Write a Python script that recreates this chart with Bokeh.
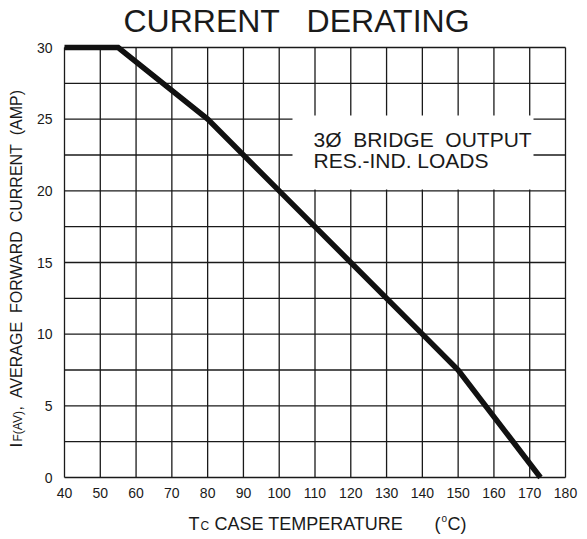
from bokeh.plotting import figure
from bokeh.models import Range1d, FixedTicker, Label, ColumnDataSource
from bokeh.embed import file_html
from bokeh.resources import INLINE

# ---- data ----
case_temp = [40, 55, 80, 100, 120, 140, 150, 173]      # Tc (deg C)
avg_current = [30, 30, 25, 20, 15, 10, 7.5, 0]         # IF(AV) (A)

x_ticks = [40, 50, 60, 70, 80, 90, 100, 110, 120, 130, 140, 150, 160, 170, 180]
y_ticks = [0, 5, 10, 15, 20, 25, 30]
y_grid = [0, 2.5, 5, 7.5, 10, 12.5, 15, 17.5, 20, 22.5, 25, 27.5, 30]

NB = "\u00a0"
title_text = "CURRENT" + NB + NB + " DERATING"
note_lines = ["3\u00d8" + NB + " BRIDGE" + NB + " OUTPUT", "RES.-IND. LOADS"]

FONT = "Liberation Sans"
INK = "#1a1a1a"

# canvas size; the frame fills the canvas and the chart grid
# (40..180 x 0..30) sits inside it at the reference's pixel position
W, H = 587, 539
PX_X = 501 / (max(x_ticks) - min(x_ticks))   # pixels per deg C
PX_Y = 430 / (max(y_grid) - min(y_grid))     # pixels per amp
X0 = min(x_ticks) - 64 / PX_X
X1 = X0 + W / PX_X
Y1 = max(y_grid) + 47 / PX_Y
Y0 = Y1 - H / PX_Y

def dx(px):
    return X0 + px / PX_X

def dy(py):
    return Y1 - py / PX_Y

p = figure(width=W, height=H, output_backend="svg", toolbar_location=None,
           x_range=Range1d(X0, X1), y_range=Range1d(Y0, Y1), min_border=0)
p.background_fill_color = "white"
p.border_fill_color = "white"
p.outline_line_color = None
p.grid.visible = False

for ax in (p.xaxis, p.yaxis):
    ax.axis_line_color = None
    ax.major_tick_line_color = None
    ax.minor_tick_line_color = None
    ax.major_tick_out = 0
    ax.major_tick_in = 0
    ax.major_label_text_font = FONT
    ax.major_label_text_font_size = "14px"
    ax.major_label_text_color = INK
p.xaxis.major_label_standoff = 10
p.yaxis.major_label_standoff = 12
p.xaxis.ticker = FixedTicker(ticks=x_ticks)
p.yaxis.ticker = FixedTicker(ticks=y_ticks)
p.xaxis.fixed_location = min(y_grid)
p.yaxis.fixed_location = min(x_ticks)

# grid lines (bounded to the chart area)
p.segment(x0=x_ticks, y0=[min(y_grid)] * len(x_ticks),
          x1=x_ticks, y1=[max(y_grid)] * len(x_ticks),
          line_color=INK, line_width=1.3)
p.segment(x0=[min(x_ticks)] * len(y_grid), y0=y_grid,
          x1=[max(x_ticks)] * len(y_grid), y1=y_grid,
          line_color=INK, line_width=1.3)

# note box (hides grid behind it)
p.quad(left=[dx(292)], right=[dx(533)], bottom=[20.1], top=[dy(115)],
       fill_color="white", line_color=None)

src = ColumnDataSource(dict(t=case_temp, i=avg_current))
p.line("t", "i", source=src, line_color="#111111", line_width=5.5, line_join="miter")

MID = 0.35  # distance baseline -> visual middle, in em

def lab(px, py, text, size, align="left"):
    """horizontal text; (px, py) = start (or centre) x and baseline y in pixels"""
    p.add_layout(Label(x=dx(px), y=dy(py - MID * size), text=text, text_font=FONT,
                       text_font_size=f"{size}px", text_color=INK, text_align=align,
                       text_baseline="middle"))

def vlab(px, py, text, size):
    """text rotated 90 deg; px = baseline x, py = start y in pixels"""
    p.add_layout(Label(x=dx(px - MID * size), y=dy(py), text=text, text_font=FONT,
                       text_font_size=f"{size}px", text_color=INK, angle=1.5707963,
                       text_align="left", text_baseline="middle"))

# title
lab(296, 32, title_text, 32, align="center")
# note text
lab(313, 146, note_lines[0], 21)
lab(313, 167, note_lines[1], 21)
# x axis label: Tc CASE TEMPERATURE (°C)
lab(188, 530, "T", 18)
lab(200, 530, "C", 12)
lab(214, 530, "CASE TEMPERATURE", 18)
lab(434, 530, "(", 18)
lab(441, 521, "o", 10)
lab(447, 530, "C)", 18)
# y axis label: IF(AV), AVERAGE FORWARD CURRENT (AMP)
vlab(22, 447, "I", 17)
vlab(22, 441, "F(AV)", 12)
vlab(22, 410, "," + NB + " AVERAGE" + NB + " FORWARD" + NB + " CURRENT" + NB + " (AMP)", 16)

open("out.html", "w").write(file_html(p, INLINE))
